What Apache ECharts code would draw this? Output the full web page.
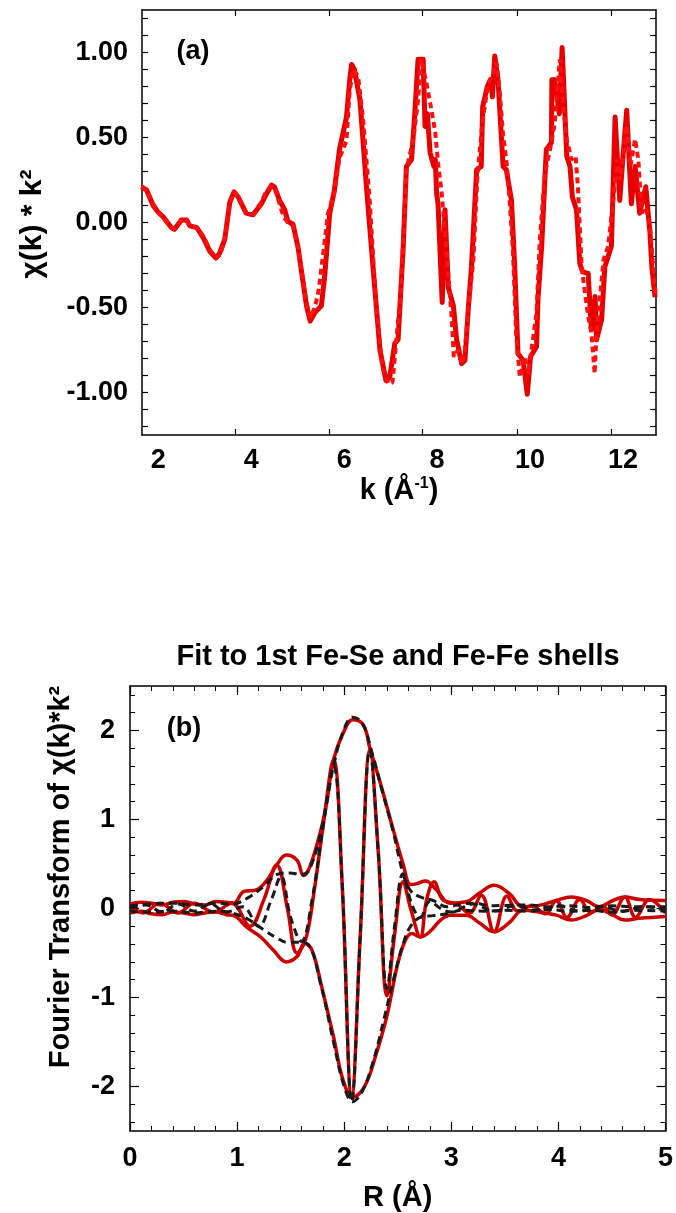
<!DOCTYPE html>
<html>
<head>
<meta charset="utf-8">
<script src="https://cdn.jsdelivr.net/npm/echarts@6/dist/echarts.min.js"></script>
<style>
html,body{margin:0;padding:0;background:#fff;}
#chart{width:676px;height:1213px;}
</style>
</head>
<body>
<div id="chart"></div>
<script>
// ---------- Panel (a): chi(k)*k^2 ----------
const kData = [1.64,1.75,1.89,2.00,2.10,2.28,2.35,2.50,2.61,2.68,2.83,2.97,3.11,3.24,3.32,3.43,3.54,3.63,3.72,3.89,4.04,4.22,4.33,4.44,4.50,4.61,4.72,4.79,4.90,5.01,5.11,5.19,5.27,5.37,5.51,5.58,5.69,5.79,5.90,6.05,6.12,6.16,6.22,6.34,6.48,6.62,6.77,6.90,6.98,7.09,7.16,7.27,7.34,7.45,7.52,7.59,7.70,7.74,7.79,7.85,7.93,7.96,7.99,8.02,8.11,8.17,8.24,8.35,8.42,8.53,8.60,8.67,8.74,8.85,8.95,8.98,9.08,9.15,9.19,9.24,9.31,9.42,9.49,9.60,9.67,9.74,9.85,9.94,10.01,10.14,10.17,10.25,10.35,10.46,10.47,10.53,10.63,10.69,10.79,10.86,10.91,11.00,11.07,11.13,11.25,11.32,11.40,11.43,11.54,11.61,11.75,11.83,11.93,12.00,12.08,12.18,12.26,12.36,12.49,12.58,12.62,12.69];
const chiData = [0.21,0.19,0.10,0.06,0.035,-0.03,-0.04,0.015,0.015,-0.02,-0.03,-0.09,-0.17,-0.21,-0.18,-0.10,0.12,0.18,0.15,0.055,0.045,0.11,0.17,0.22,0.21,0.13,0.075,0.006,-0.01,-0.15,-0.34,-0.49,-0.58,-0.53,-0.49,-0.32,0.055,0.19,0.43,0.62,0.84,0.93,0.90,0.72,0.21,-0.26,-0.75,-0.93,-0.91,-0.71,-0.69,-0.15,0.33,0.37,0.64,0.96,0.96,0.565,0.64,0.41,0.33,0.37,0.17,0.11,-0.47,0.075,-0.38,-0.49,-0.69,-0.83,-0.81,-0.51,-0.26,0.31,0.33,0.68,0.80,0.84,0.74,0.98,0.84,0.33,0.31,0.13,-0.26,-0.77,-0.81,-1.01,-0.79,-0.73,-0.45,-0.14,0.43,0.47,0.84,0.84,0.64,1.03,0.39,0.33,0.15,0.075,-0.24,-0.29,-0.30,-0.63,-0.435,-0.69,-0.57,-0.26,-0.14,0.62,0.13,0.39,0.66,0.11,0.33,0.055,0.21,-0.06,-0.26,-0.44];
const kFit = [1.64,1.75,1.89,2.00,2.10,2.28,2.35,2.50,2.61,2.70,2.83,2.97,3.11,3.24,3.33,3.43,3.54,3.63,3.72,3.89,4.04,4.22,4.30,4.42,4.52,4.62,4.70,4.78,4.90,5.01,5.11,5.19,5.27,5.37,5.45,5.55,5.65,5.79,5.90,6.05,6.12,6.20,6.30,6.41,6.55,6.68,6.82,6.95,7.04,7.12,7.22,7.34,7.49,7.59,7.66,7.77,7.88,7.96,8.02,8.10,8.17,8.24,8.31,8.36,8.45,8.53,8.60,8.67,8.78,8.87,8.98,9.10,9.21,9.28,9.35,9.42,9.49,9.56,9.63,9.70,9.78,9.89,9.96,10.03,10.14,10.21,10.32,10.43,10.53,10.64,10.72,10.79,10.89,10.98,11.03,11.11,11.17,11.25,11.32,11.39,11.43,11.52,11.58,11.68,11.79,11.87,11.93,12.00,12.08,12.16,12.26,12.33,12.40,12.49,12.58,12.65,12.70];
const chiFit = [0.21,0.19,0.11,0.06,0.03,-0.03,-0.035,0.02,0.01,-0.02,-0.03,-0.08,-0.16,-0.21,-0.19,-0.10,0.11,0.18,0.15,0.06,0.05,0.12,0.17,0.21,0.20,0.10,0.03,0.005,-0.02,-0.15,-0.33,-0.47,-0.56,-0.50,-0.40,-0.18,0.05,0.18,0.38,0.48,0.78,0.90,0.86,0.60,0.13,-0.45,-0.85,-0.95,-0.94,-0.70,-0.40,0.31,0.49,0.72,0.96,0.82,0.66,0.53,0.35,0.17,-0.06,-0.30,-0.55,-0.79,-0.75,-0.83,-0.75,-0.51,-0.22,0.28,0.60,0.82,0.88,0.94,0.76,0.51,0.37,0.13,-0.16,-0.65,-0.91,-0.79,-0.89,-0.75,-0.53,-0.10,0.29,0.43,0.58,0.96,0.66,0.49,0.37,0.39,0.21,-0.26,-0.39,-0.55,-0.65,-0.89,-0.65,-0.40,-0.22,-0.14,0.13,0.37,0.25,0.39,0.57,0.33,0.49,0.37,0.055,0.09,-0.02,-0.26,-0.415];
const kLabelValues = [2,4,6,8,10,12];
const kTickPositions = [3.66,5.67,7.69,9.72,11.74];
const chiLabelValues = [-1,-0.5,0,0.5,1];
const chiTickValues = [-1.2,-1.1,-1.0,-0.9,-0.8,-0.7,-0.6,-0.5,-0.4,-0.3,-0.2,-0.1,0,0.1,0.2,0.3,0.4,0.5,0.6,0.7,0.8,0.9,1.0,1.1,1.2];

// ---------- Panel (b): Fourier transform ----------
const rFitMagPos = [0,0.1,0.2,0.3,0.4,0.5,0.6,0.7,0.8,0.9,0.97,1.06,1.18,1.28,1.37,1.46,1.56,1.62,1.68,1.79,1.84,1.90,1.99,2.08,2.18,2.24,2.33,2.45,2.55,2.62,2.68,2.76,2.86,2.99,3.14,3.26,3.40,3.54,3.67,3.82,3.98,4.12,4.26,4.38,4.51,4.62,4.76,5.0];
const fitMagPos = [0.05,0.07,0.06,0.04,0.07,0.08,0.05,0.04,0.08,0.07,0.06,0.19,0.21,0.32,0.49,0.60,0.54,0.37,0.47,0.92,1.22,1.67,1.97,2.12,2.06,1.80,1.44,0.92,0.50,0.27,0.28,0.31,0.21,0.06,0.075,0.17,0.26,0.17,0.02,0.035,0.09,0.13,0.09,0.02,0.09,0.13,0.10,0.09];
const rFitMagNeg = [0,0.1,0.2,0.3,0.4,0.5,0.6,0.7,0.8,0.9,0.97,1.09,1.22,1.34,1.46,1.56,1.63,1.70,1.79,1.90,1.99,2.08,2.19,2.30,2.40,2.50,2.57,2.63,2.71,2.80,2.90,2.99,3.14,3.26,3.40,3.54,3.67,3.82,3.98,4.12,4.26,4.38,4.51,4.62,4.76,5.0];
const fitMagNeg = [-0.05,-0.03,-0.06,-0.07,-0.04,-0.05,-0.07,-0.05,-0.04,-0.07,-0.08,-0.21,-0.32,-0.47,-0.60,-0.54,-0.39,-0.47,-0.88,-1.44,-1.93,-2.12,-2.00,-1.63,-1.20,-0.62,-0.36,-0.28,-0.32,-0.26,-0.13,-0.075,-0.075,-0.16,-0.26,-0.16,-0.02,-0.04,-0.075,-0.13,-0.08,-0.01,-0.075,-0.13,-0.11,-0.09];
const rFitRe = [0,0.12,0.28,0.45,0.6,0.78,0.95,1.12,1.25,1.37,1.47,1.56,1.64,1.72,1.80,1.90,1.98,2.07,2.15,2.24,2.32,2.40,2.47,2.55,2.62,2.71,2.77,2.84,2.92,3.05,3.17,3.28,3.40,3.52,3.62,3.75,3.88,3.98,4.08,4.20,4.30,4.42,4.50,4.62,4.72,4.85,5.0];
const fitRe = [0.03,-0.05,0.06,-0.05,0.06,-0.04,0.06,-0.20,0.10,0.49,0.0,-0.50,-0.35,0.20,0.90,1.67,0.30,-2.12,-0.30,1.78,0.60,-0.98,-0.30,0.30,0.0,-0.32,0.10,0.30,0.10,0.05,-0.05,0.15,-0.26,0.14,-0.03,0.03,-0.06,0.09,-0.10,0.10,-0.04,0.02,-0.07,0.13,-0.10,0.10,-0.05];
const rDataMagPos = [0,0.2,0.4,0.6,0.8,0.95,1.1,1.25,1.37,1.49,1.6,1.68,1.8,1.9,2.0,2.08,2.17,2.26,2.36,2.46,2.55,2.62,2.71,2.83,2.96,3.1,3.23,3.35,3.5,3.7,3.9,4.1,4.3,4.5,4.7,5.0];
const dataMagPos = [0.03,0.05,0.06,0.04,0.06,0.05,0.12,0.25,0.38,0.40,0.38,0.45,0.95,1.60,2.02,2.15,2.08,1.75,1.30,0.85,0.39,0.20,0.13,0.09,0.02,0.05,0.06,0.03,0.035,0.04,0.02,0.03,0.01,0.03,0.02,0.02];
const rDataMagNeg = [0,0.2,0.4,0.6,0.8,0.95,1.1,1.25,1.37,1.47,1.57,1.66,1.78,1.9,2.0,2.08,2.17,2.27,2.37,2.46,2.55,2.62,2.71,2.83,2.96,3.1,3.3,3.5,3.7,3.9,4.1,4.3,4.5,4.7,5.0];
const dataMagNeg = [-0.03,-0.04,-0.03,-0.05,-0.03,-0.05,-0.12,-0.24,-0.33,-0.38,-0.38,-0.40,-0.85,-1.50,-2.00,-2.17,-2.05,-1.72,-1.25,-0.80,-0.40,-0.20,-0.10,-0.08,-0.06,-0.02,-0.03,-0.02,-0.03,-0.01,-0.03,-0.02,-0.04,-0.02,-0.03];
const rDataRe = [0,0.15,0.3,0.45,0.6,0.75,0.9,1.05,1.2,1.32,1.41,1.5,1.6,1.7,1.8,1.9,1.98,2.07,2.15,2.24,2.32,2.40,2.47,2.55,2.63,2.71,2.8,2.9,3.0,3.2,3.4,3.6,3.8,4.0,4.2,4.4,4.6,4.8,5.0];
const dataRe = [0.0,0.04,-0.04,0.05,-0.03,0.05,-0.04,0.02,-0.20,0.10,0.36,-0.10,-0.37,0.10,0.90,1.60,0.30,-2.17,-0.30,1.78,0.60,-0.90,-0.20,0.39,0.05,-0.10,0.08,0.0,-0.04,0.05,-0.03,0.03,-0.02,0.03,-0.03,0.02,-0.03,0.02,-0.02];
const rLabelValues = [0,1,2,3,4,5];
const ftLabelValues = [-2,-1,0,1,2];
const ftMinorTickValues = [-2.4,-2.2,-1.8,-1.6,-1.4,-1.2,-0.8,-0.6,-0.4,-0.2,0.2,0.4,0.6,0.8,1.2,1.4,1.6,1.8,2.2,2.4];

const FONT = "'Liberation Sans', Arial, Helvetica, sans-serif";
const zip = (xs, ys) => xs.map((x, i) => [x, ys[i]]);

const chart = echarts.init(document.getElementById('chart'), null, {renderer: 'canvas'});
const axisLine = {show: true, onZero: false, lineStyle: {color: '#000', width: 1.5}};
const noLine = {show: false, onZero: false};
const labelStyle = {color: '#000', fontFamily: FONT, fontWeight: 'bold', fontSize: 27};

const option = {
  backgroundColor: '#fff',
  animation: false,
  grid: [
    {left: 142, top: 10, width: 514, height: 425},
    {left: 130, top: 686, width: 537, height: 445}
  ],
  xAxis: [
    { // 0: panel a bottom
      type: 'value', gridIndex: 0, position: 'bottom', min: 1.65, max: 12.71,
      axisLine: axisLine, splitLine: {show: false},
      axisTick: {show: true, inside: true, length: 6, customValues: kTickPositions, lineStyle: {color: '#000', width: 1.2}},
      axisLabel: Object.assign({customValues: kLabelValues, margin: 12}, labelStyle),
      name: 'k (Å{sup|-1})', nameLocation: 'middle', nameGap: 41,
      nameTextStyle: {color: '#000', fontFamily: FONT, fontWeight: 'bold', fontSize: 29,
        rich: {sup: {fontFamily: FONT, fontWeight: 'bold', fontSize: 16, verticalAlign: 'top', padding: [0, 0, 14, 0], color: '#000'}}}
    },
    { // 1: panel a top
      type: 'value', gridIndex: 0, position: 'top', min: 1.65, max: 12.71,
      axisLine: axisLine, splitLine: {show: false},
      axisTick: {show: true, inside: true, length: 6, customValues: kTickPositions, lineStyle: {color: '#000', width: 1.2}},
      axisLabel: {show: false}
    },
    { // 2: panel b bottom
      type: 'value', gridIndex: 1, position: 'bottom', min: 0, max: 5, interval: 1,
      axisLine: axisLine, splitLine: {show: false},
      axisTick: {show: true, inside: true, length: 9, lineStyle: {color: '#000', width: 1.2}},
      minorTick: {show: true, splitNumber: 5, length: 5, lineStyle: {color: '#000', width: 1}},
      axisLabel: Object.assign({margin: 14}, labelStyle),
      name: 'R (Å)', nameLocation: 'middle', nameGap: 52,
      nameTextStyle: {color: '#000', fontFamily: FONT, fontWeight: 'bold', fontSize: 29}
    },
    { // 3: panel b top
      type: 'value', gridIndex: 1, position: 'top', min: 0, max: 5, interval: 1,
      axisLine: axisLine, splitLine: {show: false},
      axisTick: {show: true, inside: true, length: 9, lineStyle: {color: '#000', width: 1.2}},
      minorTick: {show: true, splitNumber: 5, length: 5, lineStyle: {color: '#000', width: 1}},
      axisLabel: {show: false}
    }
  ],
  yAxis: [
    { // 0: panel a left
      type: 'value', gridIndex: 0, position: 'left', min: -1.25, max: 1.25,
      axisLine: axisLine, splitLine: {show: false},
      axisTick: {show: true, inside: true, length: 6, customValues: chiTickValues, lineStyle: {color: '#000', width: 1.2}},
      axisLabel: Object.assign({customValues: chiLabelValues, margin: 14, formatter: v => v.toFixed(2)}, labelStyle)
    },
    { // 1: panel a right
      type: 'value', gridIndex: 0, position: 'right', min: -1.25, max: 1.25,
      axisLine: axisLine, splitLine: {show: false},
      axisTick: {show: true, inside: true, length: 6, customValues: chiTickValues, lineStyle: {color: '#000', width: 1.2}},
      axisLabel: {show: false}
    },
    { // 2: panel b left (major)
      type: 'value', gridIndex: 1, position: 'left', min: -2.5, max: 2.5,
      axisLine: axisLine, splitLine: {show: false},
      axisTick: {show: true, inside: true, length: 9, customValues: ftLabelValues, lineStyle: {color: '#000', width: 1.2}},
      axisLabel: Object.assign({customValues: ftLabelValues, margin: 15}, labelStyle)
    },
    { // 3: panel b left (minor)
      type: 'value', gridIndex: 1, position: 'left', min: -2.5, max: 2.5,
      axisLine: noLine, splitLine: {show: false},
      axisTick: {show: true, inside: true, length: 5, customValues: ftMinorTickValues, lineStyle: {color: '#000', width: 1}},
      axisLabel: {show: false}
    },
    { // 4: panel b right (major)
      type: 'value', gridIndex: 1, position: 'right', min: -2.5, max: 2.5,
      axisLine: axisLine, splitLine: {show: false},
      axisTick: {show: true, inside: true, length: 9, customValues: ftLabelValues, lineStyle: {color: '#000', width: 1.2}},
      axisLabel: {show: false}
    },
    { // 5: panel b right (minor)
      type: 'value', gridIndex: 1, position: 'right', min: -2.5, max: 2.5,
      axisLine: noLine, splitLine: {show: false},
      axisTick: {show: true, inside: true, length: 5, customValues: ftMinorTickValues, lineStyle: {color: '#000', width: 1}},
      axisLabel: {show: false}
    }
  ],
  graphic: [
    {type: 'text', x: 33, y: 224, rotation: Math.PI / 2,
      style: {text: 'χ(k) * k²', font: 'bold 30px ' + FONT, fill: '#000', textAlign: 'center', textVerticalAlign: 'middle'}},
    {type: 'text', x: 61, y: 877, rotation: Math.PI / 2,
      style: {text: 'Fourier Transform of χ(k)*k²', font: 'bold 29px ' + FONT, fill: '#000', textAlign: 'center', textVerticalAlign: 'middle'}},
    {type: 'text', x: 398, y: 657,
      style: {text: 'Fit to 1st Fe-Se and Fe-Fe shells', font: 'bold 29px ' + FONT, fill: '#000', textAlign: 'center', textVerticalAlign: 'middle'}},
    {type: 'text', x: 193, y: 52,
      style: {text: '(a)', font: 'bold 27px ' + FONT, fill: '#000', textAlign: 'center', textVerticalAlign: 'middle'}},
    {type: 'text', x: 184, y: 729,
      style: {text: '(b)', font: 'bold 27px ' + FONT, fill: '#000', textAlign: 'center', textVerticalAlign: 'middle'}}
  ],
  series: [
    {type: 'line', xAxisIndex: 0, yAxisIndex: 0, data: zip(kData, chiData), showSymbol: false, symbol: 'none',
      lineStyle: {color: '#e60000', width: 5, join: 'round'}, z: 3},
    {type: 'line', xAxisIndex: 0, yAxisIndex: 0, data: zip(kFit, chiFit), showSymbol: false, symbol: 'none',
      lineStyle: {color: '#ff1010', width: 4, type: [6, 4]}, z: 4},
    {type: 'line', xAxisIndex: 2, yAxisIndex: 2, data: zip(rFitMagPos, fitMagPos), smooth: 0.4, showSymbol: false, symbol: 'none',
      lineStyle: {color: '#cc0000', width: 3.5}, z: 3},
    {type: 'line', xAxisIndex: 2, yAxisIndex: 2, data: zip(rFitMagNeg, fitMagNeg), smooth: 0.4, showSymbol: false, symbol: 'none',
      lineStyle: {color: '#cc0000', width: 3.5}, z: 3},
    {type: 'line', xAxisIndex: 2, yAxisIndex: 2, data: zip(rFitRe, fitRe), smooth: 0.4, showSymbol: false, symbol: 'none',
      lineStyle: {color: '#cc0000', width: 3.5}, z: 3},
    {type: 'line', xAxisIndex: 2, yAxisIndex: 2, data: zip(rDataMagPos, dataMagPos), smooth: 0.4, showSymbol: false, symbol: 'none',
      lineStyle: {color: '#1a1a1a', width: 3, type: [8, 5]}, z: 4},
    {type: 'line', xAxisIndex: 2, yAxisIndex: 2, data: zip(rDataMagNeg, dataMagNeg), smooth: 0.4, showSymbol: false, symbol: 'none',
      lineStyle: {color: '#1a1a1a', width: 3, type: [8, 5]}, z: 4},
    {type: 'line', xAxisIndex: 2, yAxisIndex: 2, data: zip(rDataRe, dataRe), smooth: 0.4, showSymbol: false, symbol: 'none',
      lineStyle: {color: '#1a1a1a', width: 3, type: [8, 5]}, z: 4}
  ]
};
chart.setOption(option);
</script>
</body>
</html>
